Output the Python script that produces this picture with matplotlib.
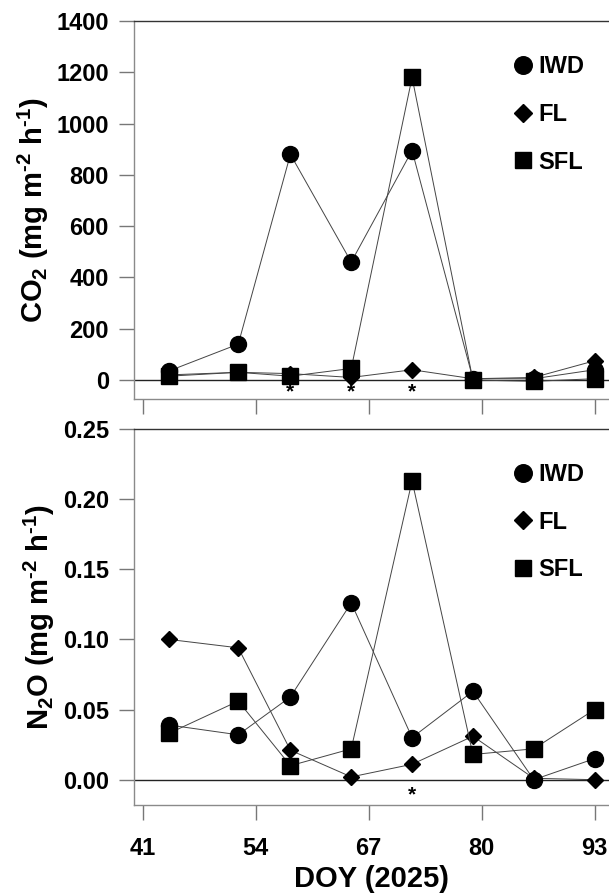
import numpy as np
import matplotlib
matplotlib.use("Agg")
import matplotlib.pyplot as plt
from matplotlib.lines import Line2D

plt.rcParams['font.family'] = ['Liberation Sans', 'DejaVu Sans']
plt.rcParams['font.weight'] = 'bold'
plt.rcParams['axes.labelweight'] = 'bold'
plt.rcParams['mathtext.fontset'] = 'custom'
plt.rcParams['mathtext.rm'] = 'Liberation Sans:bold'
plt.rcParams['mathtext.bf'] = 'Liberation Sans:bold'

# DOY der målingene ble tatt
doy = [44, 52, 58, 65, 72, 79, 86, 93]

# CO2 fluks
co2_iwd = [35, 140, 880, 460, 895, 5, 5, 40]
co2_fl = [20, 30, 25, 10, 40, 5, 10, 75]
co2_sfl = [15, 30, 15, 45, 1180, 0, -5, 5]
co2_star = [58, 65, 72]

# N2O fluks
n2o_iwd = [0.039, 0.032, 0.059, 0.126, 0.030, 0.063, 0.000, 0.015]
n2o_fl = [0.100, 0.094, 0.021, 0.002, 0.011, 0.031, 0.001, 0.000]
n2o_sfl = [0.033, 0.056, 0.010, 0.022, 0.213, 0.018, 0.022, 0.050]
n2o_star = [72]

xticks = [41, 54, 67, 80, 93]
labels = ['IWD', 'FL', 'SFL']
markers = ['o', 'D', 's']
msizes = [11.5, 8, 11]


def style_axes(ax, yticks, ylim, fmt):
    ax.set_xlim(40, 94.66)
    ax.set_ylim(*ylim)
    ax.set_xticks(xticks)
    ax.set_yticks(yticks)
    ax.yaxis.set_major_formatter(plt.FormatStrFormatter(fmt))
    ax.spines['right'].set_visible(False)
    ax.spines['top'].set_color('#333333')
    ax.spines['left'].set_color('#8a8a8a')
    ax.spines['bottom'].set_color('#8a8a8a')
    for s in ax.spines.values():
        s.set_linewidth(1.0)
    ax.tick_params(direction='out', length=11, width=1.0, color='#777777',
                   labelsize=17, pad=7)
    ax.tick_params(axis='x', pad=12)
    ax.axhline(0, color='#222222', lw=1.0, zorder=1)


def draw(ax, series, stars, star_y):
    for vals, m, ms in zip(series, markers, msizes):
        ax.plot(doy, vals, color='#444444', lw=0.7, marker=m, ms=ms,
                mfc='black', mec='black', zorder=3)
    for s in stars:
        ax.text(s, star_y, '*', ha='center', va='center', fontsize=15,
                fontweight='bold')
    handles = [Line2D([], [], ls='none', marker=m, ms=ms * 1.1, mfc='black',
                      mec='black') for m, ms in zip(markers, msizes)]
    ax.legend(handles, labels, loc='upper left', bbox_to_anchor=(0.78, 0.935),
              frameon=False, fontsize=17, handlelength=0.8, handletextpad=0.25,
              labelspacing=1.05, borderaxespad=0)


fig = plt.figure(figsize=(6.09, 8.94), dpi=100)
ax1 = fig.add_axes([0.22, 0.5537, 0.78, 0.4228])
ax2 = fig.add_axes([0.22, 0.0996, 0.78, 0.4206])

style_axes(ax1, np.arange(0, 1401, 200), (-74, 1400), '%d')
draw(ax1, [co2_iwd, co2_fl, co2_sfl], co2_star, -45)
ax1.set_xticklabels([])
ax1.set_ylabel(r'CO$_2$ (mg m$^{\text{-2}}$ h$^{\text{-1}}$)', fontsize=21,
               labelpad=4)

style_axes(ax2, np.arange(0, 0.26, 0.05), (-0.018, 0.25), '%.2f')
draw(ax2, [n2o_iwd, n2o_fl, n2o_sfl], n2o_star, -0.011)
ax2.set_ylabel(r'N$_2$O (mg m$^{\text{-2}}$ h$^{\text{-1}}$)', fontsize=21,
               labelpad=4)
ax2.set_xlabel('DOY (2025)', fontsize=21, labelpad=4)

fig.savefig('out.png', dpi=100)
